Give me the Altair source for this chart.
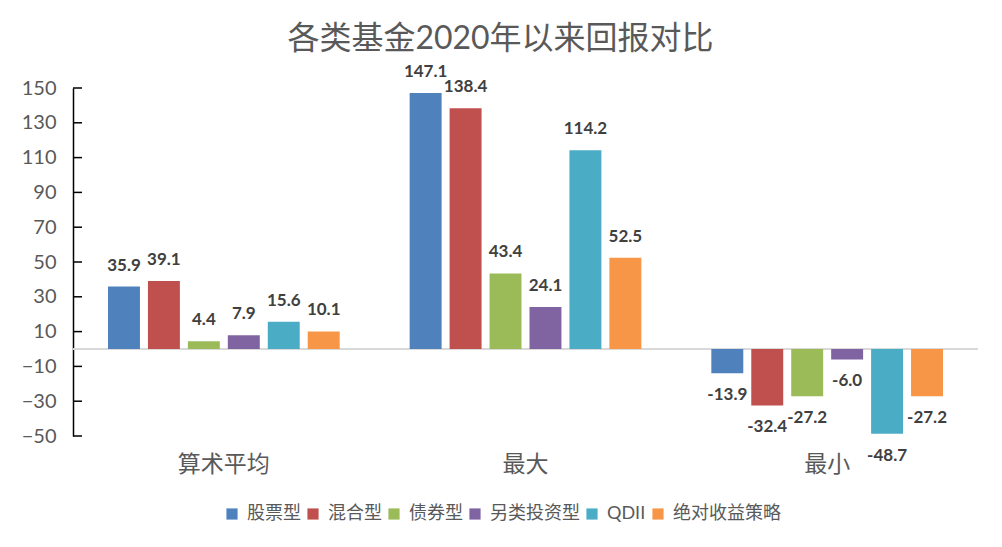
import altair as alt
import pandas as pd

categories = ["算术平均", "最大", "最小"]
series = ["股票型", "混合型", "债券型", "另类投资型", "QDII", "绝对收益策略"]
colors = ["#4F81BD", "#C0504D", "#9BBB59", "#8064A2", "#4BACC6", "#F79646"]
v_stock = [35.9, 147.1, -13.9]
v_mixed = [39.1, 138.4, -32.4]
v_bond = [4.4, 43.4, -27.2]
v_alt = [7.9, 24.1, -6.0]
v_qdii = [15.6, 114.2, -48.7]
v_abs = [10.1, 52.5, -27.2]
y_ticks = [-50, -30, -10, 10, 30, 50, 70, 90, 110, 130, 150]

FONT = "Lato, 'Noto Sans CJK SC', sans-serif"

rows = []
for s, vals in zip(series, [v_stock, v_mixed, v_bond, v_alt, v_qdii, v_abs]):
    for c, v in zip(categories, vals):
        rows.append({"cat": c, "series": s, "val": v, "label": f"{v:.1f}"})
df = pd.DataFrame(rows)
zero_df = pd.DataFrame({"val": [0]})
tick_df = pd.DataFrame({"val": y_ticks})

x_enc = alt.X("cat:N", sort=categories,
              scale=alt.Scale(paddingInner=0.232, paddingOuter=0.116),
              axis=alt.Axis(title=None, domain=False, ticks=False, labelAngle=0,
                            labelFontSize=23, labelPadding=17, labelColor="#595959",
                            labelFont=FONT))
xo_enc = alt.XOffset("series:N", sort=series,
                     scale=alt.Scale(paddingInner=0.2, paddingOuter=0))
y_axis = alt.Axis(values=y_ticks, title=None, grid=False, tickSize=0,
                  domainColor="black", domainWidth=1.5, labelPadding=17,
                  labelFontSize=20, labelColor="#595959", labelFont=FONT)
y_scale = alt.Scale(domain=[-50, 150], nice=False, zero=False)

def y_enc():
    return alt.Y("val:Q", scale=y_scale, axis=y_axis)

zero_line = alt.Chart(zero_df).mark_rule(color="#D9D9D9", strokeWidth=2).encode(
    y=y_enc()
)

bars = alt.Chart(df).mark_bar().encode(
    x=x_enc, xOffset=xo_enc, y=y_enc(),
    color=alt.Color("series:N", sort=series,
                    scale=alt.Scale(domain=series, range=colors),
                    legend=alt.Legend(orient="none", legendX=150, legendY=417,
                                      direction="horizontal", title=None,
                                      symbolType="square", symbolSize=125,
                                      symbolStrokeWidth=0,
                                      labelFontSize=18, labelColor="#595959",
                                      labelFont=FONT, columnPadding=3,
                                      labelOffset=6)),
)

pos_text = alt.Chart(df).transform_filter(alt.datum.val >= 0).mark_text(
    baseline="middle", dy=-21, fontSize=17, fontWeight="bold",
    color="#404040", font=FONT
).encode(x=x_enc, xOffset=xo_enc, y=y_enc(), text="label:N")

neg_text = alt.Chart(df).transform_filter(alt.datum.val < 0).mark_text(
    baseline="middle", dy=22, fontSize=17, fontWeight="bold",
    color="#404040", font=FONT
).encode(x=x_enc, xOffset=xo_enc, y=y_enc(), text="label:N")

inner_ticks = alt.Chart(tick_df).mark_rule(color="black", strokeWidth=1.5).encode(
    y=y_enc(), x=alt.value(0), x2=alt.value(9)
)

chart = alt.layer(zero_line, bars, pos_text, neg_text, inner_ticks).properties(
    width=905, height=348,
    title=alt.TitleParams("各类基金2020年以来回报对比", fontSize=32, color="#595959",
                          font=FONT, fontWeight="normal", anchor="middle",
                          offset=7, dx=-25),
    autosize=alt.AutoSizeParams(type="none"),
    padding={"left": 65, "top": 80, "right": 14, "bottom": 103},
    background="white",
).configure_view(stroke=None)

chart.save("out.html", embed_options={"renderer": "svg", "actions": False})
